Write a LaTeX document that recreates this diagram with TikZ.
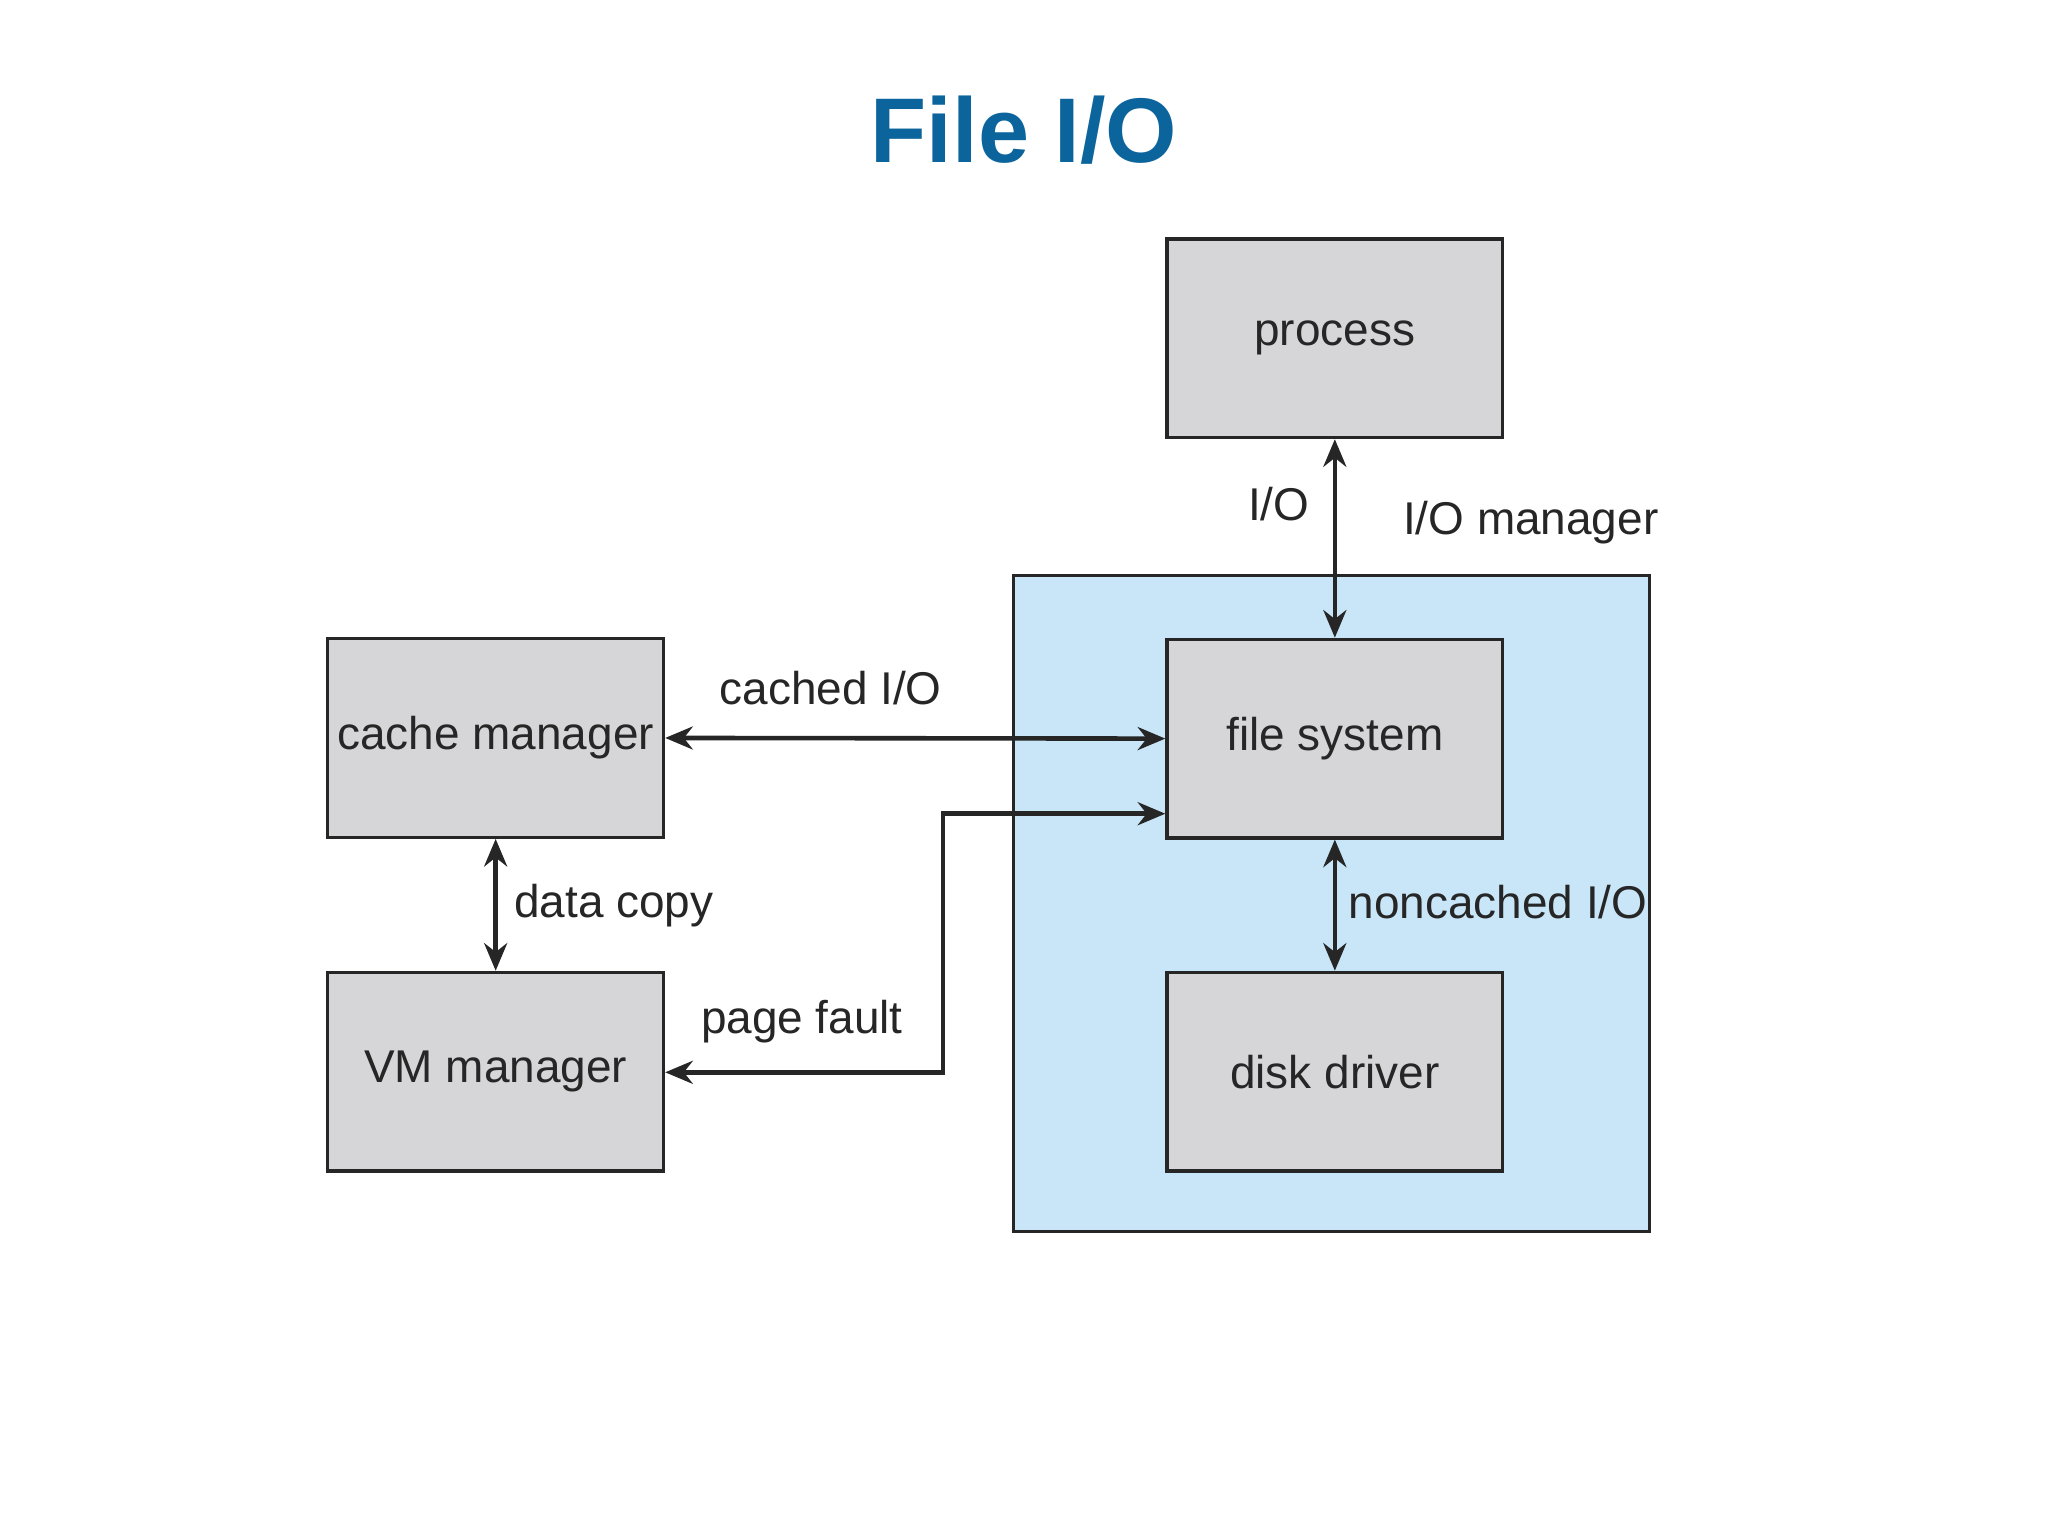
\documentclass[tikz,border=0pt]{standalone}
\usepackage{fontspec}
\setmainfont{Liberation Sans}
\usetikzlibrary{arrows.meta}
\definecolor{boxgray}{RGB}{214,214,216}
\definecolor{lblue}{RGB}{200,230,248}
\definecolor{titleblue}{RGB}{12,100,156}
\begin{document}
\begin{tikzpicture}[x=0.01cm,y=-0.01cm,
  box/.style={draw=black!85,line width=0.7pt,fill=boxgray,minimum width=2.57cm,minimum height=1.52cm,inner sep=0pt,font=\fontsize{10}{12}\selectfont\color{black!85}},
  lbl/.style={font=\fontsize{10}{12}\selectfont\color{black!85}},
  conn/.style={line width=1pt,draw=black!85,{Stealth[length=6pt,width=5pt]}-{Stealth[length=6pt,width=5pt]}}]
\useasboundingbox (0,0) rectangle (1568,1176);
\fill[white] (0,0) rectangle (1568,1176);
\node[font=\fontsize{20}{24}\selectfont\bfseries,text=titleblue] (title) at (784,100) {File I/O};
\node[draw=black!85,line width=0.7pt,fill=lblue,minimum width=4.87cm,minimum height=5.02cm,inner sep=0pt] (iom) at (1019.5,692) {};
\node[box] (proc) at (1022,259) {process};
\node[box] (fs) at (1022,565.5) {file system};
\node[box] (dd) at (1022,820.5) {disk driver};
\node[box] (cm) at (379.5,565) {cache manager};
\node[box] (vm) at (379.5,820.5) {VM manager};
\coordinate (pf1) at (722,623);
\coordinate (pf2) at (722,821);
\draw[conn] (proc.south) -- (fs.north);
\draw[conn] (fs.south) -- (dd.north);
\draw[conn] (cm.south) -- (vm.north);
\draw[conn] (cm.east) -- (fs.west);
\draw[conn] (vm.east |- pf2) -- (pf2) -- (pf1) -- (fs.west |- pf1);
\node[lbl] (l1) at (979,386) {I/O};
\node[lbl] (l2) at (1172,400) {I/O manager};
\node[lbl] (l3) at (636,527) {cached I/O};
\node[lbl] (l4) at (470,693) {data copy};
\node[lbl] (l5) at (1147,691) {noncached I/O};
\node[lbl] (l6) at (614,782) {page fault};
\end{tikzpicture}
\end{document}
